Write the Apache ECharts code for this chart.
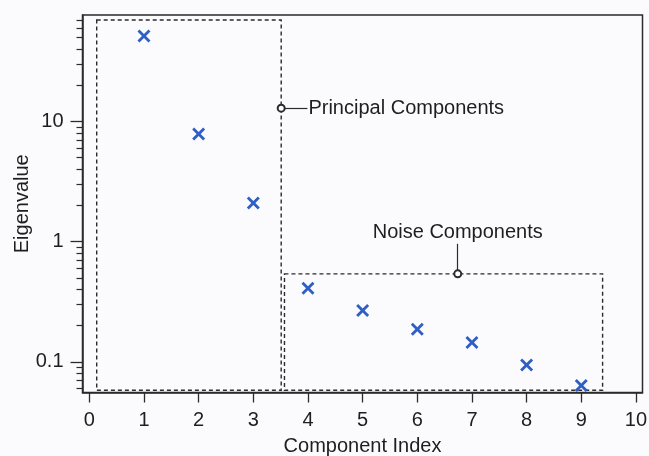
<!DOCTYPE html>
<html>
<head>
<meta charset="utf-8">
<script src="https://cdn.jsdelivr.net/npm/echarts@6/dist/echarts.min.js"></script>
<style>
  html, body { margin: 0; padding: 0; background: #fbfbfd; }
  #chart { width: 649px; height: 456px; }
</style>
</head>
<body>
<div id="chart"></div>
<script>
// component index vs eigenvalue
const componentIndex = [1, 2, 3, 4, 5, 6, 7, 8, 9];
const eigenvalues = [51.4, 7.88, 2.1, 0.41, 0.267, 0.187, 0.145, 0.094, 0.0636];

const xTicks = [0, 1, 2, 3, 4, 5, 6, 7, 8, 9, 10];
const yMajorTicks = [0.1, 1, 10];
const yMinorTicks = [0.06, 0.07, 0.08, 0.09, 0.2, 0.3, 0.4, 0.5, 0.6, 0.7, 0.8, 0.9,
  2, 3, 4, 5, 6, 7, 8, 9, 20, 30, 40, 50, 60, 70];

// dashed boxes: [x0, yTop, x1, yBottom]
const principalBox = [0.135, 69.8, 3.51, 0.058];
const noiseBox = [3.57, 0.54, 9.39, 0.058];

// annotations: start (circle) and end of leader line
const principalLabel = { text: "Principal Components", from: [3.51, 12.9], to: [3.99, 12.9] };
const noiseLabel = { text: "Noise Components", from: [6.74, 0.54], to: [6.74, 0.96] };

const font = "Liberation Sans, Arial, Helvetica, sans-serif";
const ink = "#2b2b2b";

const chart = echarts.init(document.getElementById("chart"));

const boxStyle = {
  color: "rgba(0,0,0,0)",
  borderColor: ink,
  borderWidth: 1.4,
  borderType: [4, 3]
};

const leader = (a) => [
  { coord: a.from, symbol: "emptyCircle", symbolSize: 7 },
  {
    coord: a.to,
    symbol: "none",
    label: { formatter: a.text }
  }
];

chart.setOption({
  backgroundColor: "#fbfbfd",
  animation: false,
  textStyle: { fontFamily: font },
  grid: {
    left: 82.5,
    right: 6.5,
    top: 15,
    bottom: 63.5,
    containLabel: false,
    outerBoundsMode: "none",
    show: true,
    borderColor: ink,
    borderWidth: 1.5,
    backgroundColor: "transparent"
  },
  xAxis: {
    type: "value",
    min: -0.125,
    max: 10.12,
    name: "Component Index",
    nameLocation: "middle",
    nameGap: 44,
    nameTextStyle: { fontSize: 20, color: "#1e1e1e", fontFamily: font },
    axisLine: { show: true, onZero: false, lineStyle: { color: ink, width: 1.5 } },
    axisTick: { show: true, length: 10, customValues: xTicks, lineStyle: { color: ink, width: 1.3 } },
    axisLabel: { customValues: xTicks, margin: 18, fontSize: 20, color: "#1e1e1e", fontFamily: font },
    splitLine: { show: false }
  },
  yAxis: [
    {
      type: "log",
      min: 0.0556,
      max: 76.9,
      name: "Eigenvalue",
      nameLocation: "middle",
      nameGap: 50,
      nameMoveOverlap: false,
      nameTextStyle: { fontSize: 20, color: "#1e1e1e", fontFamily: font },
      axisLine: { show: true, onZero: false, lineStyle: { color: ink, width: 1.5 } },
      axisTick: { show: true, length: 12, customValues: yMajorTicks, lineStyle: { color: ink, width: 1.3 } },
      axisLabel: {
        customValues: yMajorTicks,
        margin: 19,
        fontSize: 20,
        color: "#1e1e1e",
        fontFamily: font,
        formatter: (v) => String(+(+v).toPrecision(3))
      },
      splitLine: { show: false },
      minorTick: { show: false }
    },
    {
      type: "log",
      min: 0.0556,
      max: 76.9,
      position: "left",
      offset: 0,
      axisLine: { show: false, onZero: false },
      axisTick: { show: true, length: 6, customValues: yMinorTicks, lineStyle: { color: ink, width: 1.2 } },
      axisLabel: { show: false },
      splitLine: { show: false }
    }
  ],
  series: [
    {
      type: "scatter",
      data: componentIndex.map((x, i) => [x, eigenvalues[i]]),
      symbol: "path://M0,2 L2,0 L6.5,4.5 L11,0 L13,2 L8.5,6.5 L13,11 L11,13 L6.5,8.5 L2,13 L0,11 L4.5,6.5 Z",
      symbolSize: 13,
      itemStyle: { color: "#2f5fc4", opacity: 1 },
      z: 5
    },
    {
      type: "scatter",
      data: [],
      silent: true,
      markArea: {
        silent: true,
        itemStyle: boxStyle,
        data: [
          [{ coord: [principalBox[0], principalBox[1]] }, { coord: [principalBox[2], principalBox[3]] }],
          [{ coord: [noiseBox[0], noiseBox[1]] }, { coord: [noiseBox[2], noiseBox[3]] }]
        ]
      },
      markLine: {
        silent: true,
        animation: false,
        lineStyle: { color: ink, width: 1.2, type: "solid" },
        itemStyle: { color: ink, borderColor: ink, borderWidth: 1.2 },
        label: {
          show: true,
          position: "end",
          distance: 1,
          fontSize: 20,
          color: "#1e1e1e",
          fontFamily: font
        },
        emphasis: { disabled: true },
        data: [leader(principalLabel), leader(noiseLabel)]
      },
      z: 3
    }
  ]
});
</script>
</body>
</html>
